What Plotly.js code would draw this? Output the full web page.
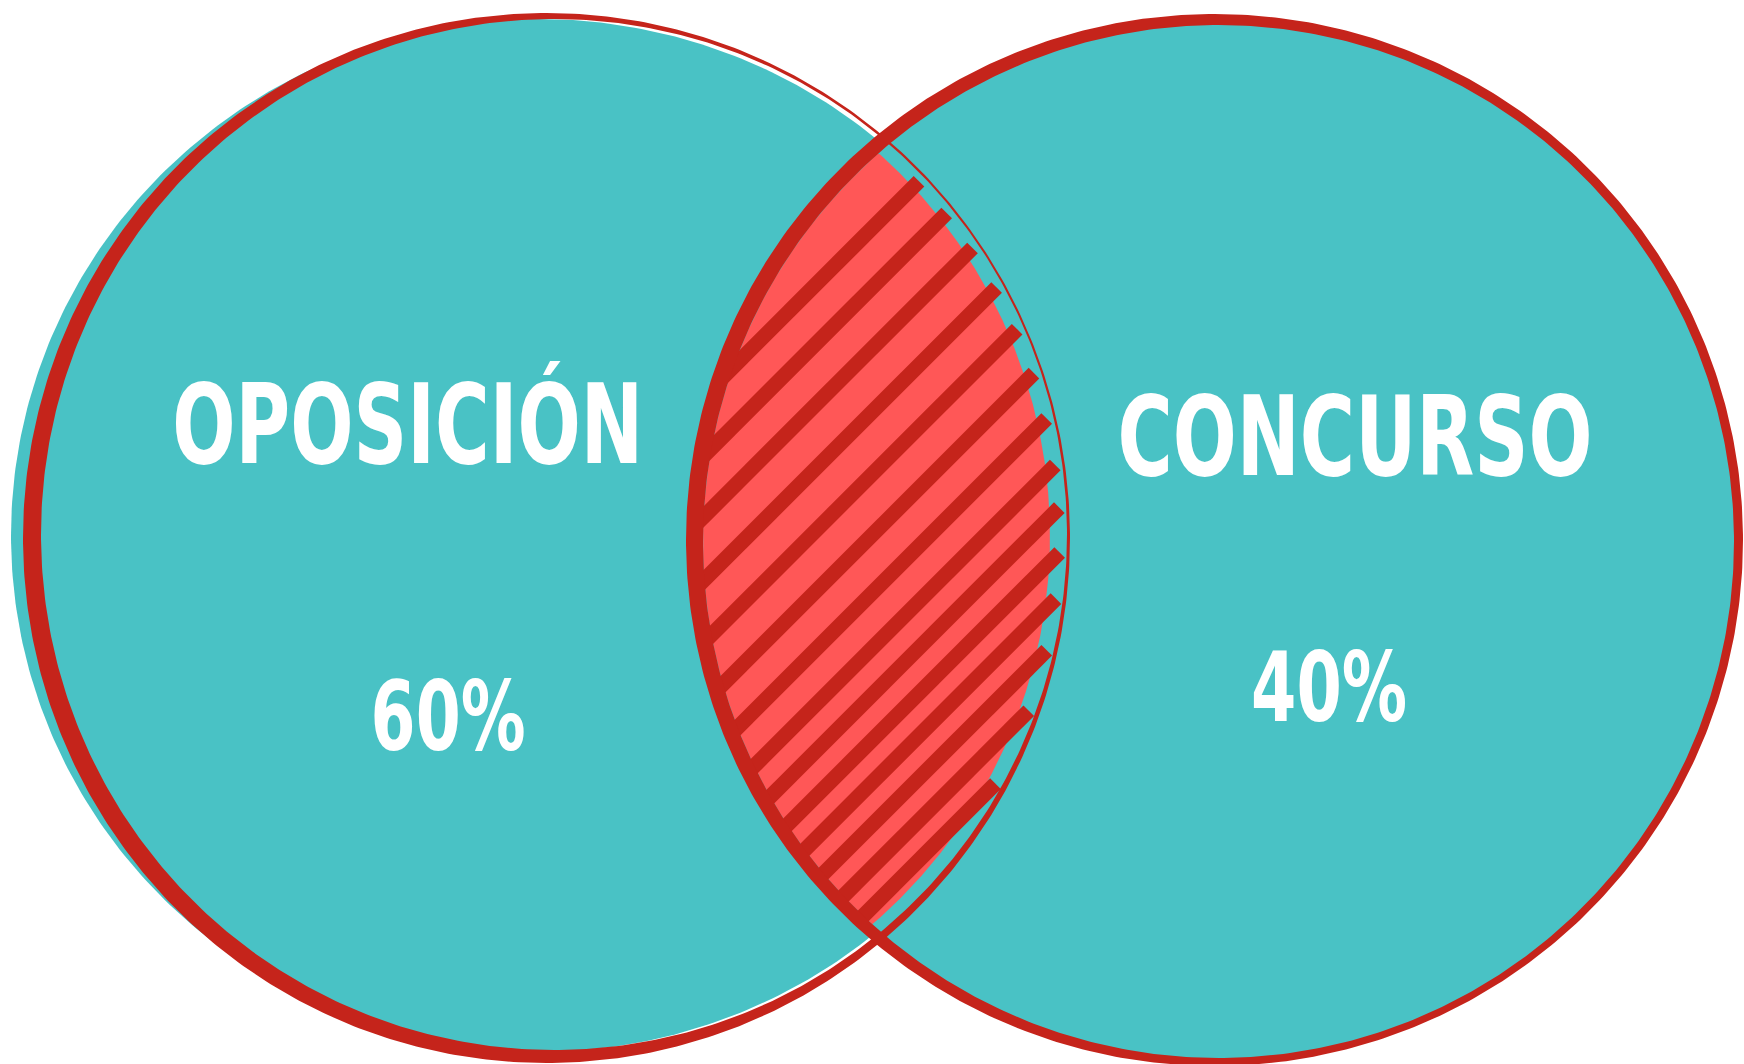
<!DOCTYPE html>
<html>
<head>
<meta charset="utf-8">
<script src="https://cdn.plot.ly/plotly-3.0.1.min.js"></script>
<style>
  html, body { margin: 0; padding: 0; background: #ffffff; }
  #chart { width: 1744px; height: 1064px; }
</style>
</head>
<body>
<div id="chart"></div>
<script>
// ---- Data ----
const sets = ['OPOSICIÓN', 'CONCURSO'];
const shares = [60, 40];
const shareLabels = shares.map(v => v + '%');

// ---- Geometry / style (pixel-like data units, y axis reversed) ----
const W = 1744, H = 1064;
const GEO = {
  leftFill:   [538.5, 535.5, 527.5, 516.5],
  leftOuter:  [546.5, 538.0, 523.5, 525.0],
  leftInner:  [554.0, 534.5, 513.0, 515.5],
  rightFill:  [1215.0, 541.0, 522.0, 520.0],
  rightOuter: [1214.5, 540.0, 528.5, 526.0],
  rightInner: [1218.5, 541.5, 515.5, 516.5],
  pinkLeft:   [540.0, 536.0, 510.0, 512.0]
};
const LABEL_POS = { names: [[407, 424], [1355, 436]], shares: [[448, 716], [1329, 687]] };
const TEXT_STYLE = { nameSize: 111, nameWidth: [471, 475], shareSize: 97, shareWidth: [155, 156] };
const COLORS = { teal: '#49C2C5', red: '#C5241B', pink: '#FF5757', text: '#FFFFFF' };
// hatch stroke offsets measured along the (1,1) diagonal, in px
const HATCH = { offsets: [778, 820, 863, 908, 952, 995, 1036, 1075, 1108, 1140, 1170, 1200, 1230, 1258], width: 15 };
const FONT = '"DejaVu Sans", "Liberation Sans", sans-serif';

function ellPts(c, t0, t1, n) {
  const [cx, cy, rx, ry] = c, xs = [], ys = [];
  for (let i = 0; i <= n; i++) {
    const t = t0 + (t1 - t0) * i / n;
    xs.push(cx + rx * Math.cos(t)); ys.push(cy + ry * Math.sin(t));
  }
  return [xs, ys];
}
function inside(c, x, y) {
  const [cx, cy, rx, ry] = c;
  return ((x - cx) / rx) ** 2 + ((y - cy) / ry) ** 2 <= 1;
}
function disk(c, color) {
  const [xs, ys] = ellPts(c, 0, 2 * Math.PI, 480);
  return { x: xs, y: ys, type: 'scatter', mode: 'lines', fill: 'toself', fillcolor: color,
           line: { width: 0 }, hoverinfo: 'skip', showlegend: false };
}
function ring(outer, inner, color, slitAngle) {
  const [ox, oy] = ellPts(outer, slitAngle, slitAngle + 2 * Math.PI, 600);
  const [ix, iy] = ellPts(inner, slitAngle + 2 * Math.PI, slitAngle, 600);
  return { x: ox.concat(ix), y: oy.concat(iy), type: 'scatter', mode: 'lines', fill: 'toself',
           fillcolor: color, line: { width: 0 }, hoverinfo: 'skip', showlegend: false };
}
function lens(A, B) {
  const xs = [], ys = [];
  const [ax, ay] = ellPts(A, -Math.PI / 2, Math.PI / 2, 900);
  ax.forEach((x, i) => { if (inside(B, x, ay[i])) { xs.push(x); ys.push(ay[i]); } });
  const [bx, by] = ellPts(B, Math.PI / 2, 3 * Math.PI / 2, 900);
  bx.forEach((x, i) => { if (inside(A, x, by[i])) { xs.push(x); ys.push(by[i]); } });
  return [xs, ys];
}
function clipInterval(c, p0, u) {
  const [cx, cy, rx, ry] = c;
  const X0 = p0[0] - cx, Y0 = p0[1] - cy;
  const a = (u[0] / rx) ** 2 + (u[1] / ry) ** 2;
  const b = 2 * (X0 * u[0] / (rx * rx) + Y0 * u[1] / (ry * ry));
  const k = (X0 / rx) ** 2 + (Y0 / ry) ** 2 - 1;
  const disc = b * b - 4 * a * k;
  if (disc <= 0) return null;
  const r = Math.sqrt(disc);
  return [(-b - r) / (2 * a), (-b + r) / (2 * a)];
}
const mid = (p, q) => p.map((v, i) => (v + q[i]) / 2);

// Lens (pink) polygon
const [lx, ly] = lens(GEO.pinkLeft, GEO.rightInner);

// Hatch strokes clipped to the outlined overlap
const clipA = [GEO.leftInner[0] - 6, GEO.leftInner[1], GEO.leftInner[2] - 1, GEO.leftInner[3] - 3];
const clipB = mid(GEO.rightOuter, GEO.rightInner);
const u = [1 / Math.SQRT2, -1 / Math.SQRT2];
const hx = [], hy = [];
HATCH.offsets.forEach(d => {
  const p0 = [d / Math.SQRT2, d / Math.SQRT2];
  const ia = clipInterval(clipA, p0, u), ib = clipInterval(clipB, p0, u);
  if (!ia || !ib) return;
  const s0 = Math.max(ia[0], ib[0]), s1 = Math.min(ia[1], ib[1]);
  if (s1 <= s0) return;
  hx.push(p0[0] + s0 * u[0], p0[0] + s1 * u[0], null);
  hy.push(p0[1] + s0 * u[1], p0[1] + s1 * u[1], null);
});

const traces = [
  disk(GEO.leftFill, COLORS.teal),
  disk(GEO.rightFill, COLORS.teal),
  { x: lx, y: ly, type: 'scatter', mode: 'lines', fill: 'toself', fillcolor: COLORS.pink,
    line: { width: 0 }, hoverinfo: 'skip', showlegend: false },
  { x: hx, y: hy, type: 'scatter', mode: 'lines', line: { color: COLORS.red, width: HATCH.width },
    connectgaps: false, hoverinfo: 'skip', showlegend: false },
  ring(GEO.leftOuter, GEO.leftInner, COLORS.red, Math.PI * 0.5),
  ring(GEO.rightOuter, GEO.rightInner, COLORS.red, Math.PI * 0.5)
];

const annotations = [];
const targetWidths = [];
sets.forEach((name, i) => {
  annotations.push({ x: LABEL_POS.names[i][0], y: LABEL_POS.names[i][1], xref: 'x', yref: 'y',
    text: '<b>' + name + '</b>', showarrow: false, xanchor: 'center', yanchor: 'middle',
    font: { family: FONT, size: TEXT_STYLE.nameSize, color: COLORS.text } });
  targetWidths.push(TEXT_STYLE.nameWidth[i]);
  annotations.push({ x: LABEL_POS.shares[i][0], y: LABEL_POS.shares[i][1], xref: 'x', yref: 'y',
    text: '<b>' + shareLabels[i] + '</b>', showarrow: false, xanchor: 'center', yanchor: 'middle',
    font: { family: FONT, size: TEXT_STYLE.shareSize, color: COLORS.text } });
  targetWidths.push(TEXT_STYLE.shareWidth[i]);
});

const layout = {
  width: W, height: H,
  margin: { l: 0, r: 0, t: 0, b: 0, pad: 0 },
  paper_bgcolor: '#ffffff', plot_bgcolor: '#ffffff',
  xaxis: { range: [0, W], visible: false, fixedrange: true },
  yaxis: { range: [H, 0], visible: false, fixedrange: true },
  showlegend: false,
  annotations: annotations
};

Plotly.newPlot('chart', traces, layout, { displayModeBar: false, staticPlot: true }).then(gd => {
  // condense the lettering horizontally (narrow poster-style type)
  gd.querySelectorAll('.annotation').forEach((g, i) => {
    const t = g.querySelector('text.annotation-text');
    if (!t) return;
    const bb = t.getBBox();
    const cx = bb.x + bb.width / 2;
    const sx = targetWidths[i] / bb.width;
    t.setAttribute('transform', 'translate(' + cx + ',0) scale(' + sx + ',1) translate(' + (-cx) + ',0)');
  });
});
</script>
</body>
</html>
